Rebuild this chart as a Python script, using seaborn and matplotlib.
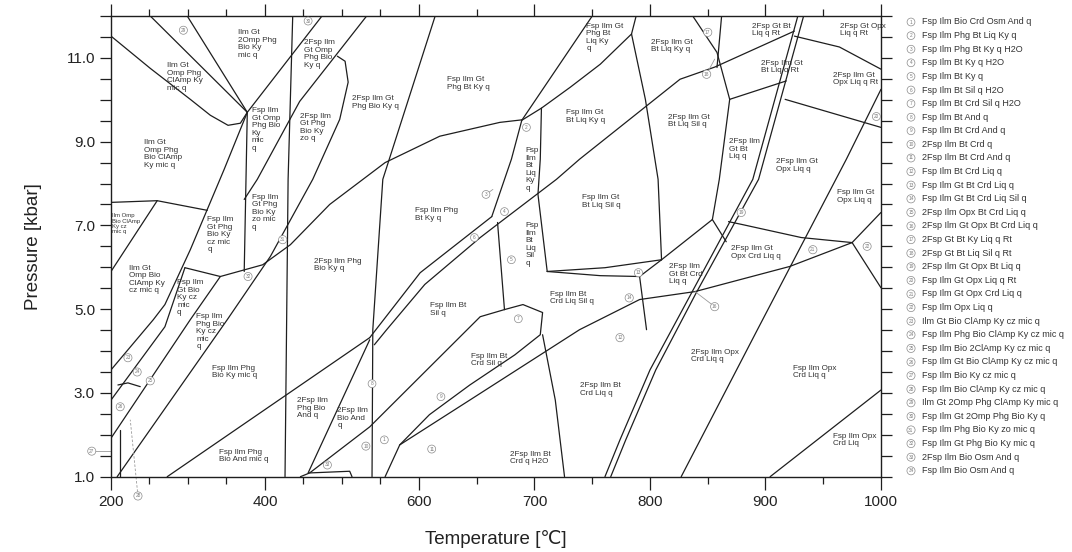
import numpy as np
import pandas as pd
import matplotlib
matplotlib.use("Agg")
import matplotlib.pyplot as plt
from matplotlib.ticker import FixedLocator, FuncFormatter
import seaborn as sns

# -----------------------------------------------------------------------------
# phase boundaries : temperature (C) / pressure (kbar)

b01_T = [200, 251, 303, 329, 352, 368, 377]
b01_P = [11.52, 10.75, 10.01, 9.63, 9.39, 9.44, 9.70]
b02_T = [251, 377]
b02_P = [12.0, 9.70]
b03_T = [299, 377]
b03_P = [12.0, 9.70]
b04_T = [377, 474]
b04_P = [9.70, 12.0]
b05_T = [436, 430, 426]
b05_P = [12.0, 8.10, 1.0]
b06_T = [377, 373]
b06_P = [9.70, 5.90]
b07_T = [532, 445, 390, 373]
b07_P = [12.0, 9.96, 8.10, 7.62]
b08_T = [208, 351, 407, 462, 497, 508, 504, 494]
b08_P = [1.0, 4.75, 6.26, 8.10, 9.53, 10.42, 10.92, 11.04]
b09_T = [689, 670, 618, 556, 484, 433, 397, 342, 296]
b09_P = [9.52, 9.46, 9.13, 8.50, 7.50, 6.54, 6.06, 5.78, 5.99]
b10_T = [377, 347, 303, 270, 255, 200]
b10_P = [9.70, 8.34, 6.42, 5.11, 4.75, 3.55]
b11_T = [200, 260, 325]
b11_P = [7.55, 7.59, 7.36]
b12_T = [200, 260]
b12_P = [5.90, 7.59]
b13_T = [200, 303, 342]
b13_P = [1.92, 4.75, 5.78]
b14_T = [200, 270, 296]
b14_P = [2.83, 4.58, 5.99]
b15_T = [614, 553, 540, 539]
b15_P = [12.0, 8.10, 4.51, 1.0]
b16_T = [273, 536]
b16_P = [1.0, 4.32]
b17_T = [542, 558, 605, 653, 670, 719, 739, 826, 856, 925]
b17_P = [4.15, 4.51, 5.59, 6.71, 7.07, 8.10, 8.58, 10.49, 10.78, 11.64]
b18_T = [536, 601, 663]
b18_P = [4.32, 5.87, 7.21]
b19_T = [536, 456]
b19_P = [4.27, 1.09]
b20_T = [458, 536, 653, 674]
b20_P = [1.09, 2.19, 4.82, 4.99]
b21_T = [446, 458, 510, 513]
b21_P = [1.0, 1.09, 1.13, 1.0]
b22_T = [750, 689, 680, 663]
b22_P = [12.0, 9.51, 8.58, 7.21]
b23_T = [788, 784, 757, 731, 706, 689]
b23_P = [12.0, 11.57, 10.85, 10.30, 9.80, 9.51]
b24_T = [784, 796, 807, 810]
b24_P = [11.57, 10.01, 8.10, 6.18]
b25_T = [706, 705, 703, 711]
b25_P = [9.80, 8.58, 7.74, 5.90]
b26_T = [668, 674]
b26_P = [7.07, 4.99]
b28_T = [674, 690, 707, 705, 683, 644, 609, 575, 556]
b28_P = [4.99, 5.11, 4.92, 4.39, 3.91, 3.19, 2.48, 1.76, 1.0]
b30_T = [711, 761, 810]
b30_P = [5.90, 5.99, 6.18]
b31_T = [711, 757, 791, 810]
b31_P = [5.90, 5.80, 5.78, 6.18]
b32_T = [791, 797]
b32_P = [5.78, 4.51]
b33_T = [575, 644, 739, 791, 839, 921, 975]
b33_P = [1.76, 2.83, 4.51, 5.23, 5.42, 6.02, 6.59]
b34_T = [810, 854]
b34_P = [6.18, 7.14]
b35_T = [869, 860, 854]
b35_P = [10.01, 8.10, 7.14]
b36_T = [854, 866]
b36_P = [7.14, 6.61]
b37_T = [837, 858, 869]
b37_P = [12.0, 11.13, 10.01]
b38_T = [862, 858]
b38_P = [12.0, 10.77]
b39_T = [869, 918]
b39_P = [10.01, 10.45]
b40_T = [928, 889, 836, 800, 774, 761]
b40_P = [12.0, 8.10, 5.39, 3.55, 1.88, 1.0]
b41_T = [933, 894, 840, 805, 779, 766]
b41_P = [12.0, 8.10, 5.39, 3.55, 1.88, 1.0]
b42_T = [1000, 970, 893, 827]
b42_P = [10.25, 8.58, 4.51, 1.0]
b43_T = [917, 1000]
b43_P = [10.01, 9.34]
b44_T = [925, 964, 1000]
b44_P = [11.52, 11.26, 10.73]
b45_T = [868, 880, 931, 975]
b45_P = [7.09, 7.02, 6.71, 6.59]
b46_T = [975, 1000]
b46_P = [6.59, 7.31]
b47_T = [975, 1000]
b47_P = [6.59, 5.51]
b48_T = [212, 212]
b48_P = [1.0, 2.12]
b49_T = [209, 222, 238]
b49_P = [3.19, 3.24, 3.15]
b50_T = [707, 718, 726]
b50_P = [4.39, 2.83, 1.0]
b51_T = [904, 1000]
b51_P = [1.0, 3.07]

# field labels
field_T = [390, 296, 401, 268, 471, 465, 544, 643, 761, 819, 744, 905, 914, 984,
           978, 834, 882, 927, 978, 758, 698, 698, 615, 494, 625, 732, 831, 892,
           400, 342, 220, 247, 303, 329, 361, 373, 462, 514, 661, 757, 696, 856,
           943, 977]
field_P = [11.33, 10.54, 9.29, 8.70, 11.09, 9.34, 9.94, 10.39, 11.49, 11.28, 9.60,
           11.66, 10.78, 11.66, 10.49, 9.49, 8.82, 8.43, 7.69, 7.57, 8.34, 6.54,
           7.26, 6.06, 4.99, 5.27, 5.83, 6.35, 7.31, 6.78, 7.04, 5.71, 5.27, 4.46,
           3.50, 1.49, 2.64, 2.40, 3.79, 3.08, 1.45, 3.88, 3.50, 1.88]
field_txt = [
    "Ilm Gt\n2Omp Phg\nBio Ky\nmic q", "Ilm Gt\nOmp Phg\nClAmp Ky\nmic q",
    "Fsp Ilm\nGt Omp\nPhg Bio\nKy\nmic\nq", "Ilm Gt\nOmp Phg\nBio ClAmp\nKy mic q",
    "2Fsp Ilm\nGt Omp\nPhg Bio\nKy q", "2Fsp Ilm\nGt Phg\nBio Ky\nzo q",
    "2Fsp Ilm Gt\nPhg Bio Ky q", "Fsp Ilm Gt\nPhg Bt Ky q",
    "Fsp Ilm Gt\nPhg Bt\nLiq Ky\nq", "2Fsp Ilm Gt\nBt Liq Ky q",
    "Fsp Ilm Gt\nBt Liq Ky q", "2Fsp Gt Bt\nLiq q Rt", "2Fsp Ilm Gt\nBt Liq q Rt",
    "2Fsp Gt Opx\nLiq q Rt", "2Fsp Ilm Gt\nOpx Liq q Rt", "2Fsp Ilm Gt\nBt Liq Sil q",
    "2Fsp Ilm\nGt Bt\nLiq q", "2Fsp Ilm Gt\nOpx Liq q", "Fsp Ilm Gt\nOpx Liq q",
    "Fsp Ilm Gt\nBt Liq Sil q", "Fsp\nIlm\nBt\nLiq\nKy\nq", "Fsp\nIlm\nBt\nLiq\nSil\nq",
    "Fsp Ilm Phg\nBt Ky q", "2Fsp Ilm Phg\nBio Ky q", "Fsp Ilm Bt\nSil q",
    "Fsp Ilm Bt\nCrd Liq Sil q", "2Fsp Ilm\nGt Bt Crd\nLiq q",
    "2Fsp Ilm Gt\nOpx Crd Liq q", "Fsp Ilm\nGt Phg\nBio Ky\nzo mic\nq",
    "Fsp Ilm\nGt Phg\nBio Ky\ncz mic\nq", "Ilm Omp\nBio ClAmp\nKy cz\nmic q",
    "Ilm Gt\nOmp Bio\nClAmp Ky\ncz mic q", "Fsp Ilm\nGt Bio\nKy cz\nmic\nq",
    "Fsp Ilm\nPhg Bio\nKy cz\nmic\nq", "Fsp Ilm Phg\nBio Ky mic q",
    "Fsp Ilm Phg\nBio And mic q", "2Fsp Ilm\nPhg Bio\nAnd q", "2Fsp Ilm\nBio And\nq",
    "Fsp Ilm Bt\nCrd Sil q", "2Fsp Ilm Bt\nCrd Liq q", "2Fsp Ilm Bt\nCrd q H2O",
    "2Fsp Ilm Opx\nCrd Liq q", "Fsp Ilm Opx\nCrd Liq q", "Fsp Ilm Opx\nCrd Liq"]

# small numbered fields
mark_T = [294, 456, 423, 378, 693, 658, 674, 680, 648, 686, 790, 782, 856, 850,
          849, 996, 941, 988, 222, 234, 251, 212, 481, 539, 619, 531, 555, 611,
          774, 879, 175, 235]
mark_P = [11.66, 11.88, 6.66, 5.78, 9.34, 7.74, 7.33, 6.18, 6.71, 4.77, 5.87, 5.27,
          5.06, 11.61, 10.61, 9.60, 6.42, 6.50, 3.84, 3.50, 3.29, 2.67, 1.28, 3.22,
          2.91, 1.73, 1.88, 1.66, 4.32, 7.31, 1.61, 0.54]
mark_num = [29, 30, 31, 32, 2, 3, 4, 5, 6, 7, 13, 14, 16, 17, 18, 20, 21, 22,
            23, 24, 25, 26, 33, 8, 9, 10, 1, 11, 12, 19, 27, 28]

# leader lines from a number to its field
lead_T0 = [658, 856, 849, 175, 235]
lead_P0 = [7.74, 5.06, 10.61, 1.61, 0.54]
lead_T1 = [664, 839, 856, 200, 225]
lead_P1 = [7.86, 5.42, 10.97, 1.61, 2.36]

legend_txt = [
    "Fsp Ilm Bio Crd Osm And q", "Fsp Ilm Phg Bt Liq Ky q", "Fsp Ilm Phg Bt Ky q H2O",
    "Fsp Ilm Bt Ky q H2O", "Fsp Ilm Bt Ky q", "Fsp Ilm Bt Sil q H2O",
    "Fsp Ilm Bt Crd Sil q H2O", "Fsp Ilm Bt And q", "Fsp Ilm Bt Crd And q",
    "2Fsp Ilm Bt Crd q", "2Fsp Ilm Bt Crd And q", "Fsp Ilm Bt Crd Liq q",
    "Fsp Ilm Gt Bt Crd Liq q", "Fsp Ilm Gt Bt Crd Liq Sil q",
    "2Fsp Ilm Opx Bt Crd Liq q", "2Fsp Ilm Gt Opx Bt Crd Liq q",
    "2Fsp Gt Bt Ky Liq q Rt", "2Fsp Gt Bt Liq Sil q Rt", "2Fsp Ilm Gt Opx Bt Liq q",
    "Fsp Ilm Gt Opx Liq q Rt", "Fsp Ilm Gt Opx Crd Liq q", "Fsp Ilm Opx Liq q",
    "Ilm Gt Bio ClAmp Ky cz mic q", "Fsp Ilm Phg Bio ClAmp Ky cz mic q",
    "Fsp Ilm Bio 2ClAmp Ky cz mic q", "Fsp Ilm Gt Bio ClAmp Ky cz mic q",
    "Fsp Ilm Bio Ky cz mic q", "Fsp Ilm Bio ClAmp Ky cz mic q",
    "Ilm Gt 2Omp Phg ClAmp Ky mic q", "Fsp Ilm Gt 2Omp Phg Bio Ky q",
    "Fsp Ilm Phg Bio Ky zo mic q", "Fsp Ilm Gt Phg Bio Ky mic q",
    "2Fsp Ilm Bio Osm And q", "Fsp Ilm Bio Osm And q"]

x_major = [200, 400, 600, 700, 800, 900, 1000]
y_major = [1, 3, 5, 7, 9, 11]

# -----------------------------------------------------------------------------
lines = {}
for i in range(1, 60):
    name = "b%02d" % i
    if name + "_T" in globals():
        lines[name] = (globals()[name + "_T"], globals()[name + "_P"])

df = pd.concat([pd.DataFrame({"T": t, "P": p, "line": k}) for k, (t, p) in lines.items()],
               ignore_index=True)
lead = pd.concat([pd.DataFrame({"T": [a, b], "P": [c, d], "line": i})
                  for i, (a, c, b, d) in enumerate(zip(lead_T0, lead_P0, lead_T1, lead_P1))],
                 ignore_index=True)


def fwd(t):
    t = np.asarray(t, dtype=float)
    return np.where(t <= 600, t, 600 + (t - 600) * 1.5)


def inv(u):
    u = np.asarray(u, dtype=float)
    return np.where(u <= 600, u, 600 + (u - 600) / 1.5)


sns.set_theme(style="ticks")
plt.rcParams["font.family"] = ["Liberation Sans", "DejaVu Sans"]

fig = plt.figure(figsize=(10.72, 5.52), dpi=100)
ax = fig.add_axes([111 / 1072, 1 - 476.7 / 552, 770 / 1072, 460.7 / 552])
ax.set_xscale("function", functions=(fwd, inv))

ink = "#1e1e1e"
sns.lineplot(data=df, x="T", y="P", units="line", estimator=None, sort=False,
             color=ink, linewidth=0.9, ax=ax)
sns.lineplot(data=lead, x="T", y="P", units="line", estimator=None, sort=False,
             color="#9a9a9a", linewidth=0.6, ax=ax)
lead_lines = ax.lines[-len(lead_T0):]
for l in lead_lines:
    l.set_clip_on(False)
lead_lines[-1].set_linestyle((0, (3, 2)))

for t, p, s in zip(field_T, field_P, field_txt):
    fs = 4.3 if s.startswith("Ilm Omp") else 5.9
    ax.text(t, p, s, ha="center", va="center", multialignment="left",
            fontsize=fs, linespacing=1.1, color="#333333")

circ = dict(boxstyle="circle,pad=0.3", fc="white", ec="#8a8a8a", lw=0.5)
for t, p, n in zip(mark_T, mark_P, mark_num):
    ax.text(t, p, str(n), ha="center", va="center", fontsize=3.4,
            color="#7a7a7a", bbox=circ, clip_on=False)

ax.set_xlim(200, 1000)
ax.set_ylim(1, 12)
ax.xaxis.set_major_locator(FixedLocator(x_major))
ax.xaxis.set_minor_locator(FixedLocator(list(range(200, 1001, 50))))
ax.xaxis.set_major_formatter(FuncFormatter(lambda v, p: "%d" % round(v)))
ax.xaxis.set_minor_formatter(FuncFormatter(lambda v, p: ""))
ax.yaxis.set_major_locator(FixedLocator(y_major))
ax.yaxis.set_minor_locator(FixedLocator(list(np.arange(1, 12.01, 0.5))))
ax.yaxis.set_major_formatter(FuncFormatter(lambda v, p: "%.1f" % v))

ax.tick_params(which="both", direction="out", top=True, right=True, color=ink,
               width=0.9, labelsize=11, labelcolor="#222222")
ax.tick_params(axis="x", which="major", length=9, pad=4)
ax.tick_params(axis="x", which="minor", length=5)
ax.tick_params(axis="y", which="both", length=8)
for sp in ax.spines.values():
    sp.set_color(ink)
    sp.set_linewidth(1.0)

ax.set_xlabel("Temperature [℃]", fontsize=13.5, color="#222222", labelpad=15)
ax.set_ylabel("Pressure [kbar]", fontsize=13.5, color="#222222", labelpad=18)

# legend column on the right
for i, s in enumerate(legend_txt):
    yy = 1 - (22 + 13.6 * i) / 552
    fig.text(911 / 1072, yy, str(i + 1), ha="center", va="center", fontsize=3.4,
             color="#7a7a7a", bbox=circ)
    fig.text(922 / 1072, yy, s, ha="left", va="center", fontsize=6.5, color="#333333")

fig.savefig("out.png", dpi=100, facecolor="white")
